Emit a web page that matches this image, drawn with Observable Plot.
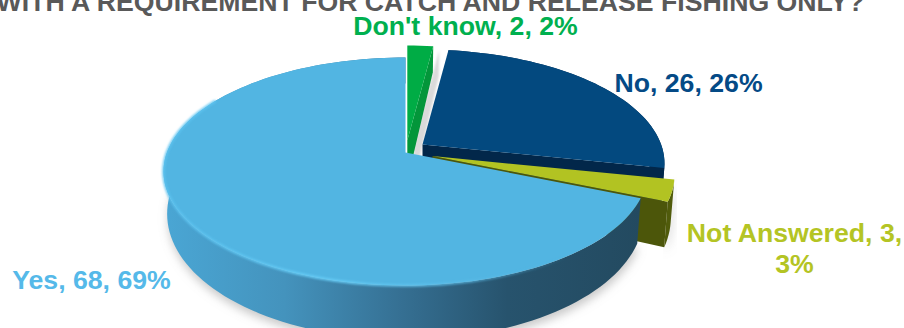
<!DOCTYPE html>
<html>
<head>
<meta charset="utf-8">
<script src="https://cdn.jsdelivr.net/npm/d3@7"></script>
<script src="https://cdn.jsdelivr.net/npm/@observablehq/plot@0.6"></script>
<style>
  html, body { margin: 0; padding: 0; background: #fff; overflow: hidden; }
</style>
</head>
<body>
<div id="chart"></div>
<script>
// Survey answers, listed clockwise from twelve o'clock
const categories = ["Don't know", "No", "Not Answered", "Yes"];
const counts = [2, 26, 3, 68];
const percents = [2, 26, 3, 69];
const titleText = "WITH A REQUIREMENT FOR CATCH AND RELEASE FISHING ONLY?";

// Perspective of the tilted disc
const RX = 238.6, RY = 110.8, PERSP = 0.1667;
const LOWER_SHRINK = 0.985;
const wallDepth = v => 40 - 14 * v;

// Where each exploded slice has its tip on the top surface
const tips = {
  "Don't know": [406.8, 140],
  "No": [422, 144],
  "Not Answered": [432, 155.6],
  "Yes": [405, 152]
};

// Slice angles in degrees, accumulated from the counts
const total = d3.sum(counts);
let running = 0;
const slices = categories.map((name, i) => {
  const start = running / total * 360;
  running += counts[i];
  return {name, start, end: running / total * 360, tip: tips[name]};
});
const sliceOf = name => slices.find(s => s.name === name);

function project(tip, deg, r, lower) {
  const a = deg * Math.PI / 180;
  const u = r * Math.sin(a), v = r * Math.cos(a);
  const w = 1 + PERSP * v;
  return {
    x: tip[0] + RX * u / w * (lower ? LOWER_SHRINK : 1),
    y: tip[1] - RY * v / w + (lower ? wallDepth(v) : 0)
  };
}
const arc = (s, lower, from = s.start, to = s.end) => {
  const n = Math.max(2, Math.ceil((to - from) / 2));
  return d3.range(n + 1).map(i => project(s.tip, from + (to - from) * i / n, 1, lower));
};
const topFace = s => [project(s.tip, 0, 0, false), ...arc(s, false)];
const wallFace = (s, from, to) => [...arc(s, false, from, to), ...arc(s, true, from, to).reverse()];
const cutFace = (s, deg) => [
  project(s.tip, 0, 0, false), project(s.tip, deg, 1, false),
  project(s.tip, deg, 1, true), project(s.tip, 0, 0, true)
];

const softly = amount => (index, scales, values, dims, context, next) => {
  const g = next(index, scales, values, dims, context);
  g.setAttribute("filter", `url(#${amount})`);
  return g;
};
const face = (points, fill, extra = {}) =>
  Plot.line(points, {x: "x", y: "y", fill, stroke: "none", curve: "linear", ...extra});

// Gradients and blur filters used by the faces below
function paints() {
  const defs = d3.create("svg:defs");
  const gradient = (id, x1, x2, stops) => {
    const g = defs.append("linearGradient").attr("id", id)
      .attr("gradientUnits", "userSpaceOnUse")
      .attr("x1", x1).attr("x2", x2).attr("y1", 0).attr("y2", 0);
    stops.forEach(([o, c, a = 1]) => g.append("stop")
      .attr("offset", o).attr("stop-color", c).attr("stop-opacity", a));
  };
  gradient("yesWall", 165, 640, [[0, "#4aa6d4"], [0.25, "#4493bd"], [0.5, "#356f92"], [0.72, "#27536d"], [1, "#234a60"]]);
  gradient("yesRim", 165, 640, [[0, "#5cc3f0", 0.9], [0.35, "#66ccf6", 1], [0.62, "#5cbde8", 0.8], [0.85, "#52b5e2", 0]]);
  const blur = (id, sd) => defs.append("filter").attr("id", id)
    .attr("x", "-20%").attr("y", "-20%").attr("width", "140%").attr("height", "140%")
    .append("feGaussianBlur").attr("stdDeviation", sd);
  blur("shadow", 5);
  blur("edge", 0.8);
  return defs.node();
}

const dk = sliceOf("Don't know"), no = sliceOf("No"), na = sliceOf("Not Answered"), yes = sliceOf("Yes");
const shadowShift = p => ({x: p.x + 1, y: p.y + 5});

const labelRows = [
  {name: "Don't know", x: 465, y: 25, lines: `Don't know, ${counts[0]}, ${percents[0]}%`, fill: "#00b04f"},
  {name: "No", x: 688, y: 82, lines: `No, ${counts[1]}, ${percents[1]}%`, fill: "#044a86"},
  {name: "Not Answered", x: 794, y: 247, lines: `Not Answered, ${counts[2]},\n${percents[2]}%`, fill: "#b4c424"},
  {name: "Yes", x: 91, y: 279, lines: `Yes, ${counts[3]}, ${percents[3]}%`, fill: "#55b9e9"}
];

const chart = Plot.plot({
  width: 904,
  height: 328,
  margin: 0,
  x: {domain: [0, 904], range: [0, 904], axis: null},
  y: {domain: [0, 328], range: [0, 328], axis: null},
  style: {background: "#fff", fontFamily: "'Liberation Sans', Arial, sans-serif"},
  marks: [
    paints,
    // Ground shadow
    face(arc(yes, true, 112.7, 300).map(shadowShift).concat([{x: 405, y: 190}]), "#9a9a9a",
      {fillOpacity: 0.55, render: softly("shadow")}),
    face(arc(na, true).map(shadowShift).concat(arc(na, false).reverse()), "#9a9a9a",
      {fillOpacity: 0.45, render: softly("shadow")}),
    face(cutFace(dk, dk.end).map(p => ({x: p.x + 6, y: p.y + 4})), "#bbbbbb",
      {fillOpacity: 0.55, render: softly("edge")}),

    // Don't know
    face(cutFace(dk, dk.end), "#03963a"),
    face(topFace(dk), "#00ac45"),

    // No
    face(wallFace(no, no.start, no.end), "#022b52"),
    face(cutFace(no, no.end), "#02274a"),
    face(topFace(no), "#03497f"),

    // Not Answered
    face(wallFace(na, na.start, na.end), "#505b0b"),
    face(cutFace(na, na.end), "#4c560a"),
    face(topFace(na), "#b2c322"),

    // Yes
    face(wallFace(yes, yes.start, yes.end), "url(#yesWall)"),
    face(topFace(yes), "#52b5e2"),
    Plot.line(arc(yes, false, yes.start, 300), {x: "x", y: "y", stroke: "url(#yesRim)", strokeWidth: 2.6, render: softly("edge")}),

    // Title and slice labels
    Plot.text([titleText], {x: () => 430, y: () => 10, text: d => d, lineAnchor: "bottom", textAnchor: "middle",
      fill: "#595959", fontSize: 26.67, fontWeight: "bold"}),
    Plot.text(labelRows, {x: "x", y: "y", text: "lines", fill: "fill", lineAnchor: "middle", textAnchor: "middle",
      fontSize: 26.67, fontWeight: "bold", lineHeight: 1.15})
  ]
});
document.getElementById("chart").appendChild(chart);
</script>
</body>
</html>
